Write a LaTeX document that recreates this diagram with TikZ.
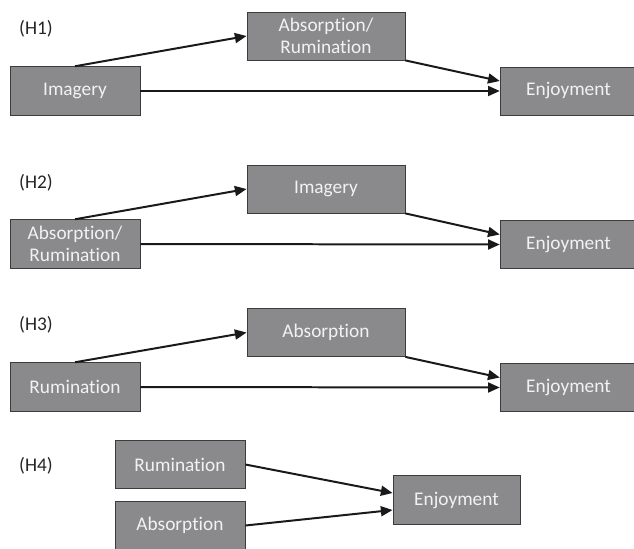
\documentclass[tikz,border=0pt]{standalone}
\usepackage{fontspec}
\setmainfont{Carlito}[Ligatures = NoCommon]
\usepackage{tikz}
\usetikzlibrary{arrows.meta}
\usetikzlibrary{positioning}
\definecolor{boxgray}{RGB}{138,138,141}
\definecolor{boxline}{RGB}{60,60,60}
\definecolor{boxtext}{RGB}{242,242,242}
\begin{document}
\begin{tikzpicture}
			[
				x = 0.03cm, y = -0.03cm,
				box/.style = {rectangle, minimum width = 3.9cm, minimum height = 1.46cm, inner sep = 0pt, fill = boxgray, draw = boxline, line width = 0.7pt, text = boxtext, align = center, font = \fontsize{16.5}{18.5}\selectfont},
				wide/.style = {minimum width = 4.74cm, minimum height = 1.44cm},
				enj/.style = {minimum width = 4.1cm, minimum height = 1.44cm},
				link/.style = {line width = 1.7pt, black!90, -{Triangle[length = 10pt, width = 8.5pt]}},
				hyp/.style = {font = \fontsize{16.5}{18.5}\selectfont, text = black!85},
			]
			\clip (0,0) rectangle (634,548);
			% H1
			\node (h1) [hyp] at (36,29) {(H1)};
			\node (absrum1) [box, wide] at (326,36) {Absorption/\\Rumination};
			\node (imag1) [box] at (75,91) {Imagery};
			\node (enj1) [box, enj] at (568.5,91) {Enjoyment};
			\draw [link] (imag1.north) -- (absrum1.west);
			\draw [link] (absrum1.south east) -- ([yshift = 0.3cm]enj1.west);
			\draw [link] (imag1.east) -- (enj1.west);
			% H2
			\node (h2) [hyp] at (36,183) {(H2)};
			\node (imag2) [box, wide] at (326,189) {Imagery};
			\node (absrum2) [box] at (75,244) {Absorption/\\Rumination};
			\node (enj2) [box, enj] at (568.5,244.5) {Enjoyment};
			\draw [link] (absrum2.north) -- (imag2.west);
			\draw [link] (imag2.south east) -- ([yshift = 0.3cm]enj2.west);
			\draw [link] (absrum2.east) -- (enj2.west);
			% H3
			\node (h3) [hyp] at (36,325) {(H3)};
			\node (abs3) [box, wide] at (326,332.5) {Absorption};
			\node (rum3) [box] at (75,387) {Rumination};
			\node (enj3) [box, enj] at (568.5,387.5) {Enjoyment};
			\draw [link] (rum3.north) -- (abs3.west);
			\draw [link] (abs3.south east) -- ([yshift = 0.3cm]enj3.west);
			\draw [link] (rum3.east) -- (enj3.west);
			% H4
			\node (h4) [hyp] at (36,466) {(H4)};
			\node (rum4) [box] at (180,464.5) {Rumination};
			\node (abs4) [box] at (180,525.5) {Absorption};
			\node (enj4) [box, minimum width = 3.81cm] at (456.5,500) {Enjoyment};
			\draw [link] (rum4.east) -- ([yshift = 0.21cm]enj4.west);
			\draw [link] (abs4.east) -- ([yshift = -0.3cm]enj4.west);
		\end{tikzpicture}
\end{document}
